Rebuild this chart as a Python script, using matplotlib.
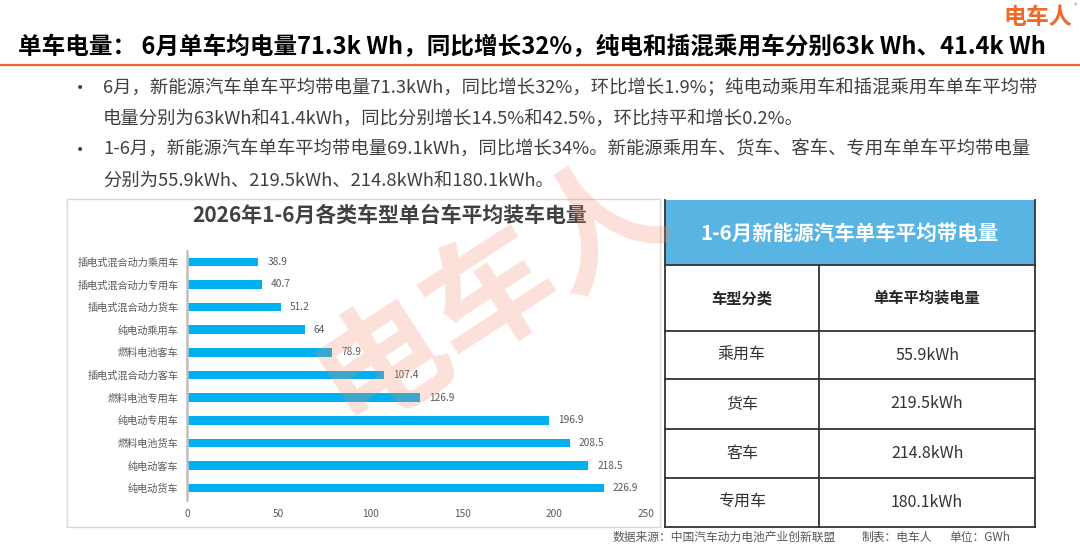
import matplotlib
matplotlib.use("Agg")
import matplotlib.pyplot as plt
from matplotlib.patches import Rectangle

plt.rcParams['font.family'] = ['Noto Sans CJK SC', 'DejaVu Sans']

# bar chart data (top to bottom)
car_types = ['插电式混合动力乘用车', '插电式混合动力专用车', '插电式混合动力货车', '纯电动乘用车',
             '燃料电池客车', '插电式混合动力客车', '燃料电池专用车', '纯电动专用车',
             '燃料电池货车', '纯电动客车', '纯电动货车']
avg_kwh = [38.9, 40.7, 51.2, 64, 78.9, 107.4, 126.9, 196.9, 208.5, 218.5, 226.9]
x_ticks = [0, 50, 100, 150, 200, 250]

# table data
table_types = ['乘用车', '货车', '客车', '专用车']
table_kwh = [55.9, 219.5, 214.8, 180.1]

title = '单车电量： 6月单车均电量71.3k Wh，同比增长32%，纯电和插混乘用车分别63k Wh、41.4k Wh'
bullets = [
    ['6月，新能源汽车单车平均带电量71.3kWh，同比增长32%，环比增长1.9%；纯电动乘用车和插混乘用车单车平均带',
     '电量分别为63kWh和41.4kWh，同比分别增长14.5%和42.5%，环比持平和增长0.2%。'],
    ['1-6月，新能源汽车单车平均带电量69.1kWh，同比增长34%。新能源乘用车、货车、客车、专用车单车平均带电量',
     '分别为55.9kWh、219.5kWh、214.8kWh和180.1kWh。'],
]

W, H = 1080, 554
fig = plt.figure(figsize=(W / 100, H / 100), dpi=100)
fig.patch.set_facecolor('white')

# pixel-coordinate background layer
bg = fig.add_axes([0, 0, 1, 1], zorder=0)
bg.set_xlim(0, W)
bg.set_ylim(H, 0)
bg.axis('off')

orange = '#EE6A2C'
txt = '#404040'

# header
bg.text(1003, 17, '电车人', fontsize=16.5, fontweight='bold', style='italic',
        color=orange, va='center', ha='left')
bg.text(1075, 6, '®', fontsize=5, color=orange, va='center', ha='center')
bg.text(18, 47, title, fontsize=17.0, fontweight='bold', color='black', va='center', ha='left')
bg.plot([0, W], [65, 65], color=orange, lw=1.6)

# bullets
y = 88
for para in bullets:
    bg.text(80, y, '•', fontsize=10, color=txt, va='center', ha='center', family='DejaVu Sans')
    for line in para:
        bg.text(103, y, line, fontsize=13.2, color=txt, va='center', ha='left')
        y += 31

# chart panel
bg.add_patch(Rectangle((67, 199), 593, 328, fill=False, edgecolor='#D9D9D9', lw=1))
bg.text(390, 215, '2026年1-6月各类车型单台车平均装车电量', fontsize=15, fontweight='bold',
        color=txt, va='center', ha='center')

# table
tl, tr, tm = 665, 1035, 819
rows = [200, 265, 331, 379, 429, 478, 527]
bg.add_patch(Rectangle((tl, rows[0]), tr - tl, rows[1] - rows[0], facecolor='#58B4E2',
                       edgecolor='none'))
bg.text((tl + tr) / 2, (rows[0] + rows[1]) / 2 + 1, '1-6月新能源汽车单车平均带电量',
        fontsize=14.8, fontweight='bold', color='white', va='center', ha='center')
for ry in rows[1:]:
    bg.plot([tl, tr], [ry, ry], color='#333333', lw=1.3)
bg.plot([tl, tl], [rows[0], rows[-1]], color='#333333', lw=1.3)
bg.plot([tr, tr], [rows[0], rows[-1]], color='#333333', lw=1.3)
bg.plot([tm, tm], [rows[1], rows[-1]], color='#333333', lw=1.3)
c1, c2 = (tl + tm) / 2, (tm + tr) / 2
hy = (rows[1] + rows[2]) / 2
bg.text(c1, hy, '车型分类', fontsize=11, fontweight='bold', color='#262626', va='center', ha='center')
bg.text(c2, hy, '单车平均装电量', fontsize=11, fontweight='bold', color='#262626', va='center', ha='center')
for i, (name, v) in enumerate(zip(table_types, table_kwh)):
    ry = (rows[i + 2] + rows[i + 3]) / 2
    bg.text(c1, ry, name, fontsize=11.5, color='#333333', va='center', ha='center')
    bg.text(c2, ry, f'{v}kWh', fontsize=11.5, color='#333333', va='center', ha='center')

# footer
bg.text(613, 537, '数据来源：中国汽车动力电池产业创新联盟', fontsize=8.5, color='#595959', va='center', ha='left')
bg.text(862, 537, '制表：电车人', fontsize=8.5, color='#595959', va='center', ha='left')
bg.text(949, 537, '单位：GWh', fontsize=8.5, color='#595959', va='center', ha='left')

# bar chart
ax = fig.add_axes([187 / W, 1 - 499.5 / H, 459 / W, 249 / H], zorder=1)
ax.patch.set_alpha(0)
pos = list(range(len(car_types)))
ax.barh(pos, avg_kwh, height=0.38, color='#00B0F0')
for p, v in zip(pos, avg_kwh):
    ax.text(v + 5, p, f'{v:g}', fontsize=7.3, color='#595959', va='center', ha='left')
ax.set_ylim(len(car_types) - 0.5, -0.5)
ax.set_xlim(0, 250)
ax.set_yticks(pos)
ax.set_yticklabels(car_types, fontsize=7.3, color='#595959')
ax.set_xticks(x_ticks)
ax.set_xticklabels([str(t) for t in x_ticks], fontsize=7.3, color='#595959')
ax.tick_params(length=0, pad=6)
ax.tick_params(axis='x', pad=7)
for s in ['top', 'right', 'bottom']:
    ax.spines[s].set_visible(False)
ax.spines['left'].set_color('#BFBFBF')
ax.spines['left'].set_linewidth(1.8)

# watermark
fig.text(492 / W, 1 - 292 / H, '电车人', fontsize=93, fontweight='bold', style='italic',
         color='#F08A6A', alpha=0.26, rotation=33, ha='center', va='center', zorder=5)

fig.savefig('out.png', dpi=100, facecolor='white')
